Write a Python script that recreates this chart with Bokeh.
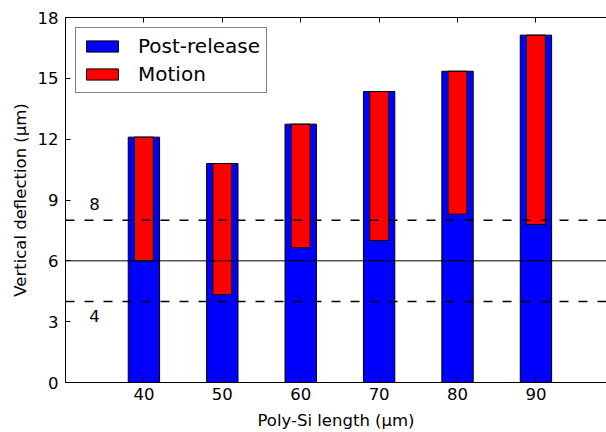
from bokeh.plotting import figure
from bokeh.models import Range1d, LinearAxis, FixedTicker, Span, ColumnDataSource
from bokeh.core.properties import value
from bokeh.embed import file_html
from bokeh.resources import INLINE

# ---- data ----
lengths = [40, 50, 60, 70, 80, 90]
post_release = [12.10, 10.80, 12.74, 14.35, 15.35, 17.13]
motion_bottom = [6.00, 4.33, 6.64, 7.00, 8.30, 7.79]
nominal_level = 6
tolerance_levels = [8, 4]
tolerance_labels = ["8", "4"]
y_ticks = [0, 3, 6, 9, 12, 15, 18]

FONT = "DejaVu Sans"
FS = "16.5px"

p = figure(width=606, height=432, output_backend="svg", toolbar_location=None,
           x_range=Range1d(30, 99.0), y_range=Range1d(0, 18),
           min_border_left=65, min_border_top=17, min_border_bottom=49, min_border_right=0)
p.outline_line_color = None
p.xgrid.visible = False
p.ygrid.visible = False
p.background_fill_color = "white"
p.border_fill_color = "white"

src = ColumnDataSource(dict(x=lengths, top=post_release, mb=motion_bottom))
p.vbar(x="x", width=4.0, bottom=0, top="top", source=src, fill_color="#0000ff",
       line_color="black", line_width=1, legend_label="Post-release")
p.vbar(x="x", width=2.4, bottom="mb", top="top", source=src, fill_color="#ff0000",
       line_color="black", line_width=1, legend_label="Motion")

p.add_layout(Span(location=nominal_level, dimension="width", line_color="black", line_width=1))
for lv in tolerance_levels:
    p.add_layout(Span(location=lv, dimension="width", line_color="black",
                      line_width=1.5, line_dash="9 10"))

lab_y = [lv + 0.8 if lv > nominal_level else lv - 0.7 for lv in tolerance_levels]
p.text(x=[33.7] * len(tolerance_labels), y=lab_y, text=tolerance_labels,
       text_font=value(FONT), text_font_size=FS, text_align="center",
       text_baseline="middle", text_color="black")

# axes styling
for ax in (p.xaxis[0], p.yaxis[0]):
    ax.axis_line_color = "black"
    ax.major_tick_line_color = "black"
    ax.major_tick_in = 5
    ax.major_tick_out = 0
    ax.minor_tick_line_color = None
    ax.major_label_text_font = FONT
    ax.major_label_text_font_size = FS
    ax.major_label_text_color = "black"
    ax.axis_label_text_font = FONT
    ax.axis_label_text_font_size = FS
    ax.axis_label_text_font_style = "normal"
    ax.axis_label_text_color = "black"

p.xaxis[0].ticker = FixedTicker(ticks=lengths)
p.yaxis[0].ticker = FixedTicker(ticks=y_ticks)
p.xaxis[0].axis_label = "Poly-Si length (µm)"
p.yaxis[0].axis_label = "Vertical deflection (µm)"
p.xaxis[0].major_label_standoff = 5
p.yaxis[0].major_label_standoff = 7
p.xaxis[0].axis_label_standoff = 8
p.yaxis[0].axis_label_standoff = 5

top_ax = LinearAxis(ticker=FixedTicker(ticks=lengths), major_tick_in=5, major_tick_out=0,
                    minor_tick_line_color=None,
                    major_label_overrides={t: "" for t in lengths},
                    major_label_standoff=0, axis_line_color="black",
                    major_tick_line_color="black")
p.add_layout(top_ax, "above")

p.legend.location = "top_left"
p.legend.margin = 10
p.legend.padding = 6
p.legend.spacing = 4
p.legend.glyph_width = 40
p.legend.glyph_height = 14
p.legend.label_height = 20
p.legend.label_standoff = 16
p.legend.label_text_font = FONT
p.legend.label_text_font_size = "20px"
p.legend.label_text_color = "black"
p.legend.border_line_color = "black"
p.legend.border_line_width = 1
p.legend.background_fill_alpha = 1

open("out.html", "w").write(file_html(p, INLINE))
